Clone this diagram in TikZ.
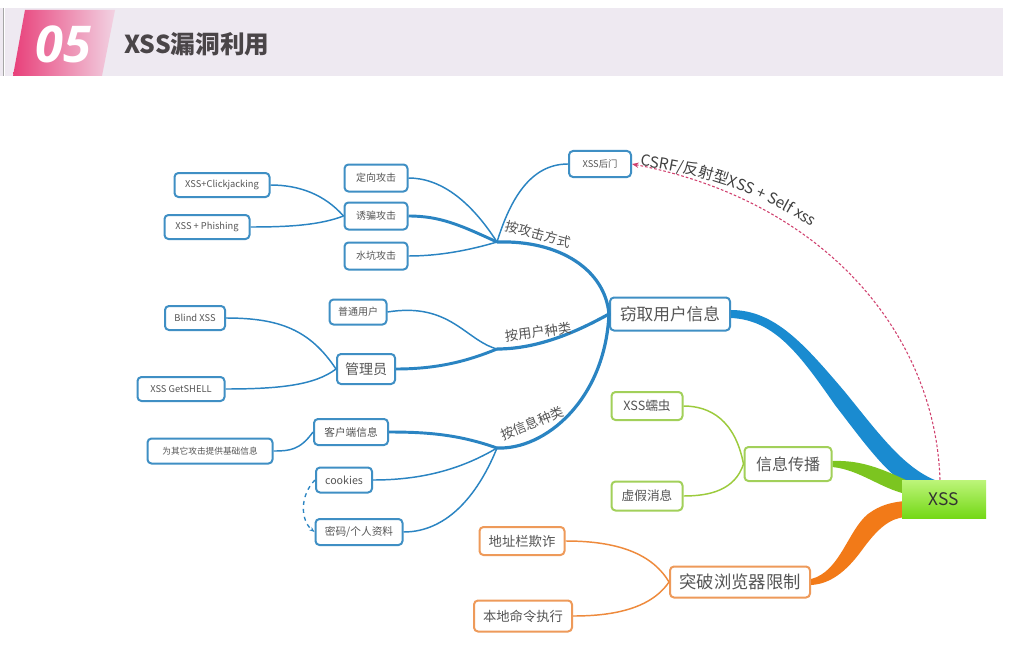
\documentclass[tikz,border=0pt]{standalone}
\usepackage{fontspec}
\setmainfont{Noto Sans CJK SC}
\newfontfamily\numfont{Open Sans}
\usetikzlibrary{decorations.text,calc,arrows.meta}
\newlength\pxu \setlength\pxu{0.75pt}
\newcommand\myfs[1]{\fontsize{#1pt}{#1pt}\selectfont}
\definecolor{bandbg}{HTML}{EEE9F1}
\definecolor{pinkA}{HTML}{E8407A}
\definecolor{pinkB}{HTML}{F2D2E2}
\definecolor{titlec}{HTML}{4A4548}
\definecolor{boxblue}{HTML}{3F8FC4}
\definecolor{lineblue}{HTML}{2A84C2}
\definecolor{bandblue}{HTML}{1A8BD0}
\definecolor{boxgreen}{HTML}{A2D05A}
\definecolor{linegreen}{HTML}{9CCB3C}
\definecolor{bandgreen}{HTML}{7CC520}
\definecolor{boxorange}{HTML}{EE9A5A}
\definecolor{lineorange}{HTML}{EE8A3C}
\definecolor{bandorange}{HTML}{F27A18}
\definecolor{txt}{HTML}{555555}
\definecolor{arcpink}{HTML}{D0406E}
\definecolor{xssTop}{HTML}{BDF57A}
\definecolor{xssBot}{HTML}{74D816}
\tikzset{
  box/.style={draw=boxblue, line width=1.5pt, rounded corners=3pt, fill=white, inner sep=0pt, text=txt, align=center},
  gbox/.style={box, draw=boxgreen},
  obox/.style={box, draw=boxorange},
  thinb/.style={draw=lineblue, line width=1.1pt},
  thickb/.style={draw=lineblue, line width=2.2pt},
  midb/.style={draw=lineblue, line width=2.4pt},
  thing/.style={draw=linegreen, line width=1.1pt},
  thino/.style={draw=lineorange, line width=1.1pt},
  hublabel/.style={text=txt, font=\myfs{10}, inner sep=0pt}
}
\begin{document}
\begin{tikzpicture}[x=0.75pt,y=-0.75pt]
\useasboundingbox (0,0) rectangle (1009,656);
\fill[white] (0,0) rectangle (1009,656);
% header
\fill[bandbg] (0,8) rectangle (3,76);
\draw[gray!70, line width=0.6pt] (3.5,8) -- (3.5,76);
\fill[bandbg] (5,8) rectangle (1003,76);
\shade[left color=pinkA, right color=pinkB] (25,10) -- (115,10) -- (102,76) -- (13,76) -- cycle;
\node[text=white, font=\numfont\bfseries\itshape\myfs{38}, inner sep=0pt] (num) at (63,44) {05};
\node[text=titlec, font=\bfseries\myfs{18.5}, anchor=west, inner sep=0pt] (title) at (124,44) {XSS漏洞利用};

% nodes
\node[box, minimum width=62\pxu, minimum height=26\pxu, font=\myfs{7}] (bd) at (600,164) {XSS后门};
\node[box, minimum width=63\pxu, minimum height=27\pxu, font=\myfs{7.5}] (dx) at (376,178) {定向攻击};
\node[box, minimum width=63\pxu, minimum height=27\pxu, font=\myfs{7.5}] (yp) at (376,216) {诱骗攻击};
\node[box, minimum width=63\pxu, minimum height=27\pxu, font=\myfs{7.5}] (sk) at (376,256) {水坑攻击};
\node[box, minimum width=95\pxu, minimum height=24\pxu, font=\myfs{7}] (cj) at (222,185) {XSS+Clickjacking};
\node[box, minimum width=85\pxu, minimum height=24\pxu, font=\myfs{7}] (ph) at (207,227) {XSS + Phishing};
\node[box, minimum width=120\pxu, minimum height=33\pxu, font=\myfs{12.5}] (qq) at (670,314) {窃取用户信息};
\node[box, minimum width=57\pxu, minimum height=25\pxu, font=\myfs{7.5}] (pt) at (358,312) {普通用户};
\node[box, minimum width=58\pxu, minimum height=30\pxu, font=\myfs{10.5}] (gl) at (366,369) {管理员};
\node[box, minimum width=60\pxu, minimum height=24\pxu, font=\myfs{7}] (bx) at (195,318) {Blind XSS};
\node[box, minimum width=87\pxu, minimum height=24\pxu, font=\myfs{7}] (gs) at (181,389) {XSS GetSHELL};
\node[box, minimum width=74\pxu, minimum height=26\pxu, font=\myfs{8}] (kh) at (351,432) {客户端信息};
\node[box, minimum width=125\pxu, minimum height=25\pxu, font=\myfs{6.5}] (jc) at (210,451) {为其它攻击提供基础信息};
\node[box, minimum width=56\pxu, minimum height=25\pxu, font=\myfs{8}] (ck) at (344,480) {cookies};
\node[box, minimum width=87\pxu, minimum height=26\pxu, font=\myfs{8}] (mm) at (359,532) {密码/个人资料};
\node[gbox, minimum width=87\pxu, minimum height=34\pxu, font=\myfs{12}] (cb) at (788,464) {信息传播};
\node[gbox, minimum width=71\pxu, minimum height=28\pxu, font=\myfs{9.5}] (rc) at (647,406) {XSS蠕虫};
\node[gbox, minimum width=71\pxu, minimum height=29\pxu, font=\myfs{9.5}] (xj) at (647,496) {虚假消息};
\node[obox, minimum width=140\pxu, minimum height=31\pxu, font=\myfs{13}] (tp) at (740,582) {突破浏览器限制};
\node[obox, minimum width=85\pxu, minimum height=28\pxu, font=\myfs{10}] (dz) at (522,541) {地址栏欺诈};
\node[obox, minimum width=98\pxu, minimum height=31\pxu, font=\myfs{10}] (bl) at (523,616) {本地命令执行};

% hubs
\coordinate (h1) at (497,242);
\coordinate (h2) at (497,349);
\coordinate (h3) at (497,448);

% main tapered branches
\fill[bandblue] ($(qq.east)+(0,-4)$) .. controls (775,310) and (805,345) .. (845,392) .. controls (880,435) and (905,470) .. (940,482) -- (905,484) .. controls (882,468) and (862,440) .. (835,405) .. controls (800,355) and (775,320) .. ($(qq.east)+(0,4)$) -- cycle;
\fill[bandgreen] ($(cb.east)+(0,-3)$) .. controls (860,460) and (880,468) .. (906,480) -- (906,494) .. controls (880,488) and (860,470) .. ($(cb.east)+(0,3)$) -- cycle;
\fill[bandorange] ($(tp.east)+(0,-3)$) .. controls (840,572) and (848,530) .. (868,514) .. controls (880,505) and (892,502) .. (906,501) -- (906,517) .. controls (890,518) and (878,528) .. (862,550) .. controls (846,572) and (830,584) .. ($(tp.east)+(0,3)$) -- cycle;
\node[top color=xssTop, bottom color=xssBot, minimum width=84\pxu, minimum height=38\pxu, inner sep=0pt, text=black!80, font=\myfs{13}] (xss) at (944,499) {XSS};

% level 1 blue
\draw[midb] (h1) .. controls (560,240) and (605,270) .. (qq.west);
\draw[midb] (h2) .. controls (540,349) and (580,330) .. (qq.west);
\draw[midb] (h3) .. controls (545,450) and (605,400) .. (qq.west);
\node[hublabel, rotate=-15] (l1) at (538,234) {按攻击方式};
\node[hublabel, rotate=8] (l2) at (538,332) {按用户种类};
\node[hublabel, rotate=22] (l3) at (532,423) {按信息种类};

% hub1
\draw[thinb] (h1) .. controls (510,200) and (530,164) .. (bd.west);
\draw[thinb] (h1) .. controls (470,200) and (440,178) .. (dx.east);
\draw[thickb] (h1) .. controls (460,225) and (440,216) .. (yp.east);
\draw[thinb] (h1) .. controls (470,250) and (440,256) .. (sk.east);
\draw[thinb] (yp.west) .. controls (325,195) and (300,185) .. (cj.east);
\draw[thinb] (yp.west) .. controls (320,225) and (290,227) .. (ph.east);

% hub2
\draw[thinb] (h2) .. controls (465,340) and (450,302) .. (pt.east);
\draw[thickb] (h2) .. controls (470,360) and (440,369) .. (gl.east);
\draw[thinb] (gl.west) .. controls (310,330) and (280,318) .. (bx.east);
\draw[thinb] (gl.west) .. controls (315,385) and (280,389) .. (gs.east);

% hub3
\draw[thickb] (h3) .. controls (460,435) and (430,432) .. (kh.east);
\draw[thinb] (h3) .. controls (460,470) and (420,480) .. (ck.east);
\draw[thinb] (h3) .. controls (480,490) and (450,532) .. (mm.east);
\draw[thinb] (kh.west) .. controls (300,450) and (290,451) .. (jc.east);
\draw[draw=lineblue, line width=1pt, dashed, -{Stealth[length=4pt]}] (ck.west) .. controls (300,495) and (300,520) .. (mm.west);

% green
\draw[thing] (cb.west) .. controls (735,420) and (710,406) .. (rc.east);
\draw[thing] (cb.west) .. controls (735,490) and (710,496) .. (xj.east);

% orange
\draw[thino] (tp.west) .. controls (650,550) and (610,541) .. (dz.east);
\draw[thino] (tp.west) .. controls (650,610) and (610,616) .. (bl.east);

% pink dashed arc
\coordinate (xtop) at ($(xss.north)+(-4,0)$);
\draw[arcpink, line width=0.8pt, dash pattern=on 2pt off 1.5pt, -{Stealth[length=5pt,width=4pt]}] (xtop) .. controls (935,330) and (820,200) .. (bd.east);
\path[decorate, decoration={text along path, text={|\myfs{11.5}\color{black!75}|CSRF/反射型XSS + Self xss}, text align=left}] (640,166) .. controls (720,175) and (790,205) .. (845,252);
\end{tikzpicture}
\end{document}
